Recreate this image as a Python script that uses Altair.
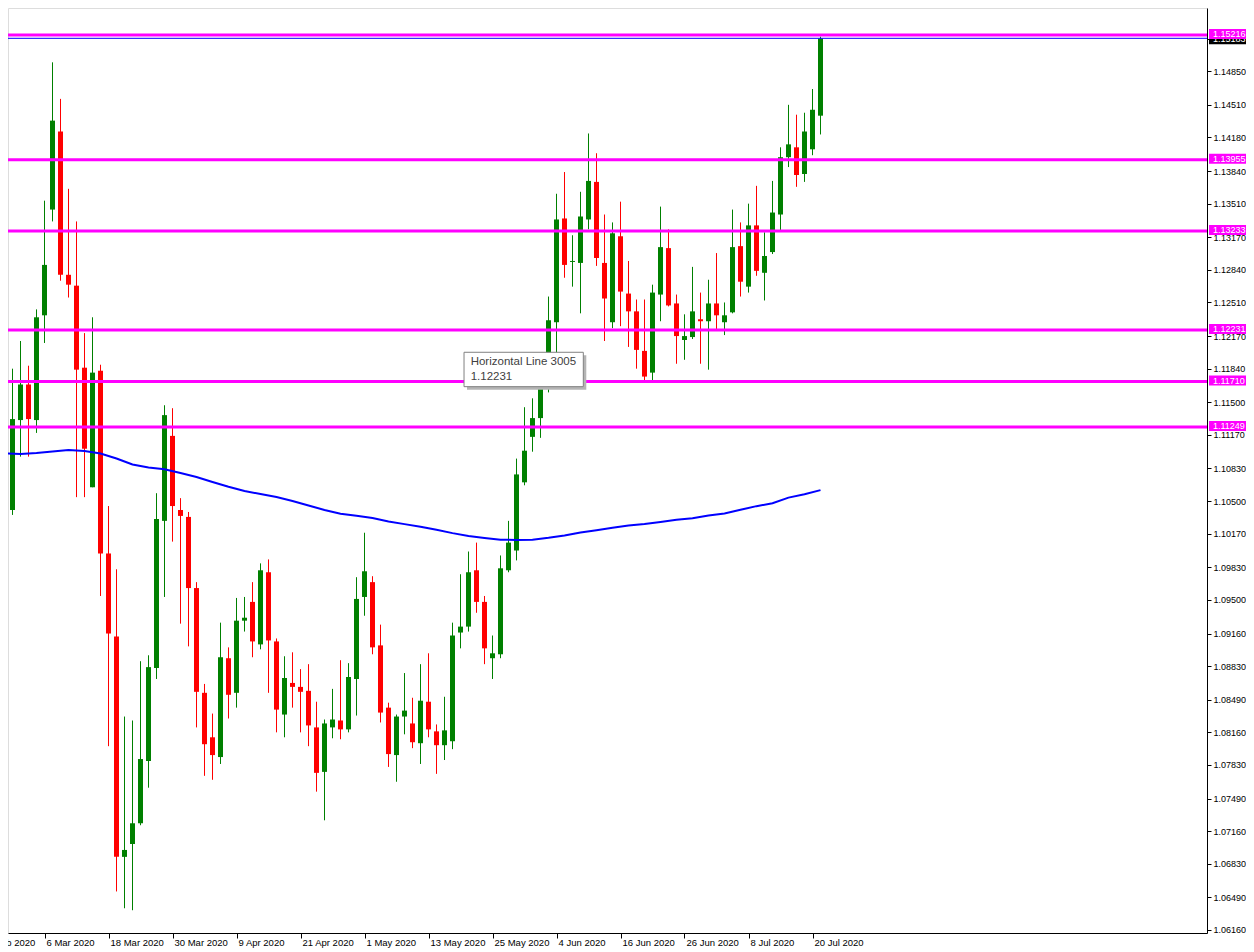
import altair as alt
import pandas as pd

# ---------------- data ----------------
# daily candles, 28 Feb 2020 .. 21 Jul 2020 (bar index 0..102)
opens = [1.1000, 1.1041, 1.1132, 1.1168, 1.1132, 1.1238, 1.1345, 1.1424, 1.1279, 1.1268,
         1.1185, 1.1064, 1.1182, 1.0997, 1.0913, 1.0690, 1.0703, 1.0724, 1.0787, 1.0881,
         1.1030, 1.1116, 1.1041, 1.1034, 1.0962, 1.0856, 1.0811, 1.0791, 1.0891, 1.0856,
         1.0929, 1.0948, 1.0905, 1.0978, 1.0908, 1.0834, 1.0866, 1.0862, 1.0858, 1.0821,
         1.0776, 1.0821, 1.0828, 1.0819, 1.0870, 1.0953, 1.0968, 1.0904, 1.0841, 1.0793,
         1.0832, 1.0825, 1.0805, 1.0847, 1.0817, 1.0803, 1.0807, 1.0917, 1.0923, 1.0980,
         1.0948, 1.0891, 1.0895, 1.0980, 1.1000, 1.1069, 1.1115, 1.1134, 1.1166, 1.1231,
         1.1336, 1.1292, 1.1291, 1.1335, 1.1373, 1.1291, 1.1231, 1.1318, 1.1260, 1.1242,
         1.1202, 1.1180, 1.1259, 1.1306, 1.1250, 1.1213, 1.1216, 1.1234, 1.1232, 1.1250,
         1.1231, 1.1241, 1.1308, 1.1267, 1.1329, 1.1281, 1.1302, 1.1340, 1.1398, 1.1408,
         1.1381, 1.1406, 1.1440]
highs = [1.1053, 1.1184, 1.1212, 1.1187, 1.1244, 1.1354, 1.1494, 1.1457, 1.1366, 1.1333,
         1.1220, 1.1236, 1.1188, 1.1045, 1.0981, 1.0832, 1.0828, 1.0888, 1.0894, 1.1058,
         1.1147, 1.1144, 1.1053, 1.1039, 1.0968, 1.0865, 1.0835, 1.0927, 1.0902, 1.0952,
         1.0953, 1.0968, 1.0987, 1.0991, 1.0911, 1.0893, 1.0897, 1.0880, 1.0885, 1.0847,
         1.0829, 1.0860, 1.0889, 1.0886, 1.0973, 1.1018, 1.0974, 1.0925, 1.0846, 1.0834,
         1.0876, 1.0851, 1.0885, 1.0896, 1.0824, 1.0852, 1.0927, 1.0976, 1.0999, 1.1008,
         1.0954, 1.0914, 1.0995, 1.1030, 1.1093, 1.1145, 1.1154, 1.1175, 1.1257, 1.1361,
         1.1383, 1.1319, 1.1363, 1.1422, 1.1402, 1.1340, 1.1332, 1.1353, 1.1293, 1.1254,
         1.1254, 1.1269, 1.1348, 1.1325, 1.1259, 1.1239, 1.1287, 1.1261, 1.1274, 1.1301,
         1.1251, 1.1345, 1.1332, 1.1351, 1.1369, 1.1322, 1.1374, 1.1408, 1.1451, 1.1441,
         1.1443, 1.1467, 1.1520]
lows = [1.0950, 1.1036, 1.1095, 1.1095, 1.1119, 1.1210, 1.1333, 1.1273, 1.1256, 1.1054,
        1.1054, 1.1064, 1.0954, 1.0802, 1.0655, 1.0638, 1.0636, 1.0722, 1.0760, 1.0870,
        1.0953, 1.1009, 1.0926, 1.0903, 1.0821, 1.0772, 1.0768, 1.0784, 1.0830, 1.0841,
        1.0918, 1.0892, 1.0900, 1.0856, 1.0816, 1.0811, 1.0841, 1.0816, 1.0802, 1.0756,
        1.0727, 1.0810, 1.0809, 1.0816, 1.0833, 1.0934, 1.0895, 1.0826, 1.0781, 1.0766,
        1.0814, 1.0800, 1.0784, 1.0811, 1.0774, 1.0788, 1.0799, 1.0901, 1.0918, 1.0937,
        1.0885, 1.0870, 1.0891, 1.0978, 1.0990, 1.1066, 1.1100, 1.1114, 1.1160, 1.1199,
        1.1276, 1.1267, 1.1240, 1.1325, 1.1288, 1.1212, 1.1225, 1.1227, 1.1206, 1.1184,
        1.1172, 1.1172, 1.1232, 1.1247, 1.1189, 1.1193, 1.1214, 1.1189, 1.1183, 1.1224,
        1.1218, 1.1240, 1.1257, 1.1261, 1.1278, 1.1253, 1.1300, 1.1324, 1.1388, 1.1368,
        1.1373, 1.1400, 1.1421]
closes = [1.1028, 1.1133, 1.1168, 1.1133, 1.1236, 1.1289, 1.1435, 1.1279, 1.1269, 1.1183,
          1.1103, 1.1180, 1.0997, 1.0916, 1.0690, 1.0697, 1.0724, 1.0789, 1.0882, 1.1032,
          1.1137, 1.1045, 1.1035, 1.0962, 1.0857, 1.0804, 1.0793, 1.0892, 1.0854, 1.0929,
          1.0932, 1.0908, 1.0980, 1.0909, 1.0839, 1.0871, 1.0862, 1.0857, 1.0823, 1.0775,
          1.0825, 1.0829, 1.0819, 1.0872, 1.0951, 1.0979, 1.0902, 1.0836, 1.0794, 1.0832,
          1.0838, 1.0806, 1.0848, 1.0819, 1.0803, 1.0818, 1.0914, 1.0923, 1.0978, 1.0948,
          1.0901, 1.0896, 1.0982, 1.1008, 1.1077, 1.1101, 1.1134, 1.1165, 1.1233, 1.1335,
          1.1289, 1.1293, 1.1338, 1.1374, 1.1296, 1.1255, 1.1321, 1.1262, 1.1242, 1.1203,
          1.1176, 1.1261, 1.1307, 1.1248, 1.1217, 1.1217, 1.1242, 1.1232, 1.1250, 1.1238,
          1.1238, 1.1307, 1.1272, 1.1329, 1.1283, 1.1298, 1.1342, 1.1398, 1.1411, 1.1380,
          1.1424, 1.1446, 1.1518]

# moving average (blue line), read at every second bar
ma_idx = [-0.5] + list(range(0, 103, 2))
ma_vals = [1.10987, 1.10982, 1.10976, 1.10987, 1.11002, 1.11017, 1.11007, 1.10982, 1.10931,
           1.10870, 1.10840, 1.10823, 1.10784, 1.10744, 1.10693, 1.10645, 1.10602, 1.10572,
           1.10542, 1.10501, 1.10456, 1.10410, 1.10372, 1.10352, 1.10328, 1.10294, 1.10267,
           1.10241, 1.10210, 1.10176, 1.10148, 1.10127, 1.10109, 1.10107, 1.10109, 1.10129,
           1.10153, 1.10183, 1.10206, 1.10230, 1.10254, 1.10269, 1.10289, 1.10311, 1.10326,
           1.10355, 1.10375, 1.10412, 1.10449, 1.10478, 1.10535, 1.10569, 1.10611]

# horizontal lines
level_prices = [1.15216, 1.13955, 1.13233, 1.12231, 1.11710, 1.11249]
level_labels = ["1.15216", "1.13955", "1.13233", "1.12231", "1.11710", "1.11249"]
bid_price = [1.15183]
bid_label = ["1.15183"]

# axis ticks
date_tick_idx = [-3, 5, 13, 21, 29, 37, 45, 53, 61, 69, 77, 85, 93, 101]
date_tick_labels = ["25 Feb 2020", "6 Mar 2020", "18 Mar 2020", "30 Mar 2020", "9 Apr 2020",
                    "21 Apr 2020", "1 May 2020", "13 May 2020", "25 May 2020", "4 Jun 2020",
                    "16 Jun 2020", "26 Jun 2020", "8 Jul 2020", "20 Jul 2020"]
price_ticks = [1.15510, 1.15180, 1.14850, 1.14510, 1.14180, 1.13840, 1.13510, 1.13170,
               1.12840, 1.12510, 1.12170, 1.11840, 1.11500, 1.11170, 1.10830, 1.10500,
               1.10170, 1.09830, 1.09500, 1.09160, 1.08830, 1.08490, 1.08160, 1.07830,
               1.07490, 1.07160, 1.06830, 1.06490, 1.06160]

# annotation box (anchored in data coordinates)
note_lines = ["Horizontal Line 3005", "1.12231"]
note_box = {"x1": 57.44, "x2": 72.35, "y1": 1.12006, "y2": 1.11658}
note_text_x = 58.27
note_text_y = [1.11905, 1.11759]

# ---------------- chart ----------------
W, H = 1199, 925
FONT = "Liberation Sans"
LAB_PAD = -1
LAB_Y = H + 0.5 + 5 + LAB_PAD   # where the date labels sit (axis baseline 'top')

df = pd.DataFrame({"i": range(len(opens)), "open": opens, "high": highs,
                   "low": lows, "close": closes})
df["dir"] = ["up" if c >= o else "down" for o, c in zip(opens, closes)]

xs = alt.Scale(domain=[0.4375, 150.3125], nice=False, zero=False, padding=0)
ys = alt.Scale(domain=[1.061296, 1.154897], nice=False, zero=False, padding=0)

expr = "''"
for v, t in reversed(list(zip(date_tick_idx, date_tick_labels))):
    expr = f"datum.value == {v} ? '{t}' : ({expr})"

xaxis = alt.Axis(values=date_tick_idx, labelExpr=expr, title=None, grid=False,
                 orient="bottom", labelAlign="left", labelBaseline="top", labelOffset=1.5,
                 labelPadding=LAB_PAD, tickSize=5, tickColor="black", domainColor="black",
                 labelColor="black", labelFont=FONT, labelFontSize=9.5, labelFlush=False,
                 labelOverlap=False, labelBound=False, zindex=0)
yaxis = alt.Axis(values=price_ticks, labelExpr="format(datum.value, '.5f')", title=None,
                 grid=False, orient="right", labelAlign="left", labelBaseline="middle",
                 labelPadding=2, tickSize=4, tickColor="black", domainColor="black",
                 labelColor="black", labelFont=FONT, labelFontSize=9, labelFlush=False,
                 labelOverlap=False, labelBound=False, zindex=0)


def X(field):
    return alt.X(field, type="quantitative", scale=xs, axis=xaxis)


def Y(field):
    return alt.Y(field, type="quantitative", scale=ys, axis=yaxis)


color = alt.Color("dir:N", scale=alt.Scale(domain=["up", "down"], range=["#008000", "#ff0000"]),
                  legend=None)

candles = alt.Chart(df)
wicks = candles.mark_rule(strokeWidth=1).encode(x=X("i"), y=Y("low"), y2="high", color=color)
bodies = candles.mark_bar(size=5).encode(x=X("i"), y=Y("open"), y2="close", color=color)

ma_df = pd.DataFrame({"i": ma_idx, "ma": ma_vals})
ma_line = alt.Chart(ma_df).mark_line(color="#0000ff", strokeWidth=2).encode(x=X("i"), y=Y("ma"))

lv = pd.DataFrame({"price": level_prices, "label": level_labels})
bid = pd.DataFrame({"price": bid_price, "label": bid_label})

level_rules = alt.Chart(lv).mark_rule(color="#ff00ff", strokeWidth=3).encode(y=Y("price"))
bid_rule = alt.Chart(bid).mark_rule(color="#0000ff", strokeWidth=1).encode(y=Y("price"))

bid_box = alt.Chart(bid).mark_rect(color="black", yOffset=-4, y2Offset=6).encode(
    y=Y("price"), y2="price", x=alt.value(W + 2), x2=alt.value(W + 41))
bid_text = alt.Chart(bid).mark_text(align="left", baseline="middle", color="white", font=FONT,
                                    fontSize=9, dy=1).encode(
    y=Y("price"), x=alt.value(W + 6), text="label:N")

lv_box = alt.Chart(lv).mark_rect(color="#ff00ff", yOffset=-6, y2Offset=4).encode(
    y=Y("price"), y2="price", x=alt.value(W + 2), x2=alt.value(W + 41))
lv_text = alt.Chart(lv).mark_text(align="left", baseline="middle", color="white", font=FONT,
                                  fontSize=9, dy=-1).encode(
    y=Y("price"), x=alt.value(W + 6), text="label:N")

# first date label lies left of the plot's edge; drawn as text so it can be cut by the edge
first_lab = pd.DataFrame({"i": [date_tick_idx[0]], "t": [date_tick_labels[0]]})
first_text = alt.Chart(first_lab).mark_text(
    align="left", baseline="top", font=FONT, fontSize=9.5, color="black", dx=1.5
).encode(x=X("i"), y=alt.value(LAB_Y), text="t:N")

nb = pd.DataFrame([note_box])
note_shadow = alt.Chart(nb).mark_rect(color="#b4b4b4", xOffset=3, x2Offset=3, yOffset=3,
                                      y2Offset=3).encode(x=X("x1"), x2="x2", y=Y("y1"), y2="y2")
note_rect = alt.Chart(nb).mark_rect(fill="white", stroke="#808080", strokeWidth=1).encode(
    x=X("x1"), x2="x2", y=Y("y1"), y2="y2")
nt = pd.DataFrame({"x": [note_text_x] * len(note_lines), "y": note_text_y, "t": note_lines})
note_text = alt.Chart(nt).mark_text(align="left", baseline="middle", font=FONT, fontSize=11.5,
                                    color="#404040").encode(x=X("x"), y=Y("y"), text="t:N")

chart = alt.layer(
    wicks, bodies, ma_line, bid_rule, level_rules, bid_box, bid_text, lv_box, lv_text,
    first_text, note_shadow, note_rect, note_text
).properties(
    width=W, height=H, autosize=alt.AutoSizeParams(type="none"),
    padding={"left": 0, "top": 0, "right": 39, "bottom": 17}
).configure_view(stroke=None).configure(background="white")

chart.save("out.html", embed_options={"renderer": "svg", "actions": False})
